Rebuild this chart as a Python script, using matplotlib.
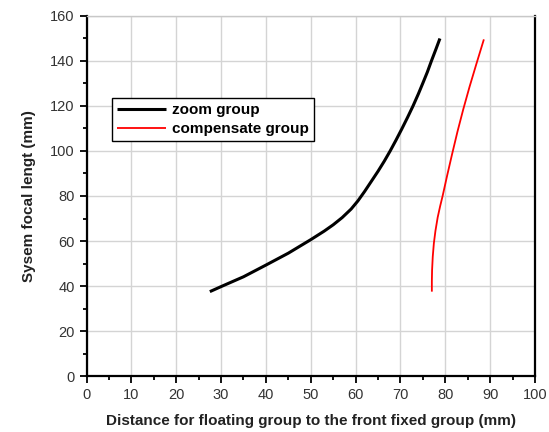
import matplotlib
matplotlib.use("Agg")
import matplotlib.pyplot as plt
from matplotlib.ticker import MultipleLocator

plt.rcParams['font.family'] = ['Liberation Sans', 'DejaVu Sans']

# Group position (mm) against system focal length (mm)
zoom_pos = [27.5, 30.3, 35.0, 40.0, 45.0, 50.0, 53.0, 55.0, 57.0, 59.0, 60.5, 62.0, 63.5,
            65.0, 66.4, 67.7, 69.0, 70.3, 71.6, 72.8, 74.0, 75.0, 76.0, 76.9, 77.9, 78.8]
focal_zoom = [37.5, 40.0, 44.1, 49.3, 54.6, 60.6, 64.4, 67.2, 70.4, 74.2, 77.8, 82.0, 86.5,
              91.0, 95.5, 100.0, 104.8, 109.8, 115.0, 120.0, 125.4, 130.2, 135.1, 140.0,
              145.2, 150.0]

comp_pos = [77.0, 77.0, 77.05, 77.2, 77.45, 77.8, 78.3, 78.85, 79.4, 80.4, 81.5, 82.7,
            84.0, 85.4, 86.9, 88.6]
focal_comp = [37.5, 42.0, 47.0, 53.0, 59.0, 64.5, 70.5, 75.5, 80.0, 89.0, 98.5, 108.5,
              118.5, 128.5, 138.5, 149.6]

x_ticks = list(range(0, 101, 10))
y_ticks = list(range(0, 161, 20))

fig = plt.figure(figsize=(5.49, 4.32), dpi=100)
ax = fig.add_axes([0.1576, 0.1296, 0.8169, 0.8334])

ax.plot(zoom_pos, focal_zoom, color='black', lw=2.2, label='zoom group',
        solid_capstyle='butt', solid_joinstyle='round', zorder=3)
ax.plot(comp_pos, focal_comp, color='#ff0000', lw=1.3, label='compensate group',
        solid_capstyle='butt', solid_joinstyle='round', zorder=3)

ax.set_xlim(0, 100)
ax.set_ylim(0, 160)
ax.set_xticks(x_ticks)
ax.set_yticks(y_ticks)
ax.xaxis.set_minor_locator(MultipleLocator(5))
ax.yaxis.set_minor_locator(MultipleLocator(10))

ax.grid(True, which='major', color='#d4d4d4', lw=1.0, zorder=0)
ax.set_axisbelow(True)

for side in ('left', 'bottom', 'right'):
    ax.spines[side].set_linewidth(1.6)
    ax.spines[side].set_color('black')
ax.spines['top'].set_linewidth(1.0)
ax.spines['top'].set_color('#c8c8c8')

ax.tick_params(which='major', direction='out', length=5, width=1.3, labelsize=10.5,
               labelcolor='#333333', top=False, right=False)
ax.tick_params(which='minor', direction='out', length=3, width=1.3, top=False, right=False)

ax.set_xlabel('Distance for floating group to the front fixed group (mm)', fontsize=11,
              fontweight='bold', color='#222222', labelpad=9)
ax.set_ylabel('Sysem focal lengt (mm)', fontsize=11, fontweight='bold', color='#222222',
              labelpad=10)

leg = ax.legend(loc='upper left', bbox_to_anchor=(0.056, 0.772), frameon=True, fancybox=False,
                edgecolor='black', framealpha=1, prop={'size': 11, 'weight': 'bold'},
                handlelength=3.2, handletextpad=0.4, borderpad=0.35, labelspacing=0.3,
                borderaxespad=0)
leg.get_frame().set_linewidth(1.0)

fig.savefig('out.png', dpi=100)
